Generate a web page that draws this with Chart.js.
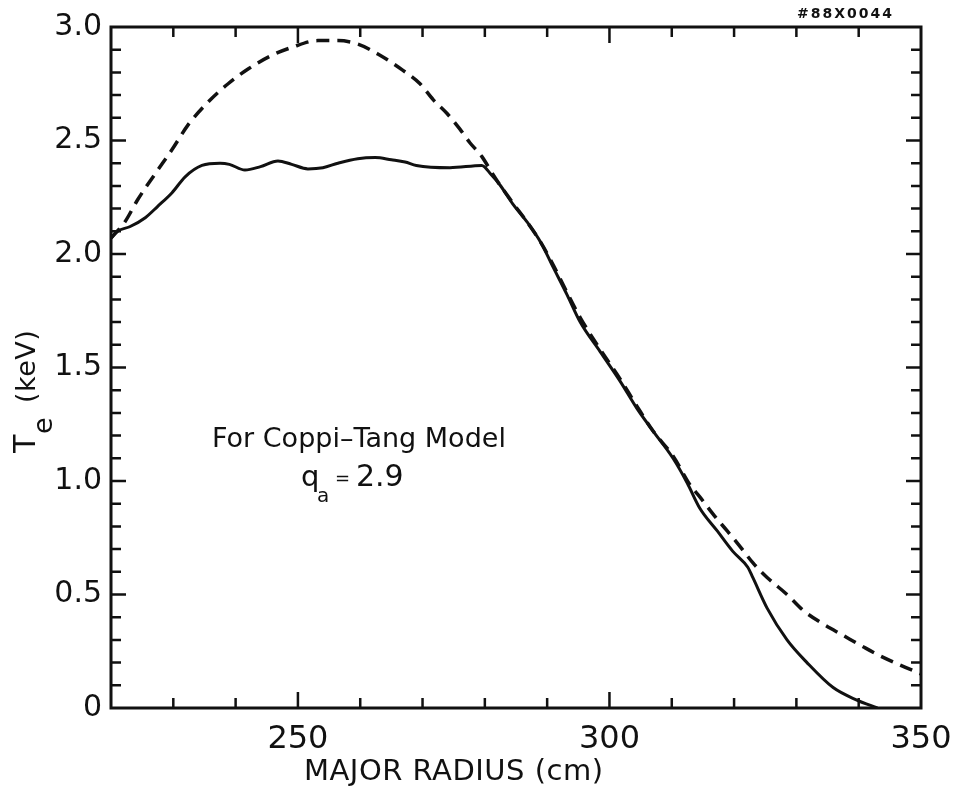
<!DOCTYPE html>
<html>
<head>
<meta charset="utf-8">
<title>Te profile</title>
<script src="https://cdn.jsdelivr.net/npm/chart.js@4.4.1/dist/chart.umd.min.js"></script>
<style>
  html, body { margin: 0; padding: 0; background: #fff; }
  #wrap { width: 958px; height: 786px; }
</style>
</head>
<body>
<div id="wrap"><canvas id="te" width="958" height="786"></canvas></div>
<script>
// measured Te profile: major radius (cm) vs Te (keV)
const measuredR = [220, 221, 223, 225.5, 227.5, 229.8, 231.9, 234.6, 237.5, 239, 241.5, 244, 246.8, 249,
  251.6, 254, 256.4, 259.6, 262.4, 265, 267.2, 269, 274.4, 279.5, 281, 282.4, 284.5, 286.8, 289, 291,
  293.2, 295.3, 298.5, 301.7, 304.4, 307, 310.2, 312.5, 314.5, 317.3, 319.8, 322.2, 323, 325.3, 328.5,
  331.7, 335.9, 339.7, 343];
const measuredTe = [2.07, 2.10, 2.12, 2.16, 2.21, 2.27, 2.34, 2.39, 2.40, 2.395, 2.37, 2.385, 2.41, 2.395,
  2.375, 2.38, 2.40, 2.42, 2.425, 2.415, 2.405, 2.39, 2.38, 2.39, 2.35, 2.305, 2.22, 2.14, 2.05, 1.94,
  1.82, 1.70, 1.57, 1.44, 1.32, 1.22, 1.10, 0.99, 0.88, 0.78, 0.69, 0.62, 0.575, 0.44, 0.30,
  0.20, 0.09, 0.035, 0.0];

// Coppi-Tang model profile
const modelR = [220, 222.2, 224.3, 227, 229.8, 232.4, 235.6, 238.8, 242, 245.8, 249, 253.2, 256.4, 259.6,
  262.9, 266.8, 269.6, 271.7, 273.9, 276, 277.6, 279.5, 281.2, 282.4, 284.5, 286.8, 289, 291, 293.2,
  295.3, 298.5, 301.7, 304.4, 307, 310.2, 313, 314.5, 316.6, 318.9, 321, 323, 325.3, 328.5, 331.1,
  334.3, 337.5, 340.7, 343.4, 346.6, 350];
const modelTe = [2.07, 2.14, 2.24, 2.35, 2.46, 2.57, 2.67, 2.75, 2.815, 2.875, 2.91, 2.94, 2.94, 2.925,
  2.88, 2.81, 2.75, 2.68, 2.62, 2.55, 2.49, 2.43, 2.355, 2.305, 2.225, 2.14, 2.05, 1.95, 1.83,
  1.72, 1.58, 1.45, 1.33, 1.22, 1.11, 0.98, 0.93, 0.855, 0.78, 0.71, 0.64, 0.575, 0.50, 0.43,
  0.37, 0.32, 0.27, 0.23, 0.19, 0.15];

const xTickLabels = [250, 300, 350];
const yTickLabels = ['0', '0.5', '1.0', '1.5', '2.0', '2.5', '3.0'];

const toPoints = (xs, ys) => xs.map((r, i) => ({ x: r, y: ys[i] }));

const INK = '#111';
const FONT = 'DejaVu Sans';

// box, inward ticks on all four sides, titles and the model note
const frame = {
  id: 'frame',
  afterDraw(chart) {
    const { ctx, chartArea: a, scales: { x, y } } = chart;
    ctx.save();
    ctx.strokeStyle = INK;
    ctx.lineWidth = 3;
    ctx.strokeRect(a.left, a.top, a.right - a.left, a.bottom - a.top);

    ctx.lineWidth = 2.5;
    ctx.beginPath();
    x.ticks.forEach(t => {
      if (t.value <= x.min || t.value >= x.max) return;
      const px = x.getPixelForValue(t.value);
      const len = t.label ? 16 : 10;
      ctx.moveTo(px, a.bottom); ctx.lineTo(px, a.bottom - len);
      ctx.moveTo(px, a.top); ctx.lineTo(px, a.top + len);
    });
    y.ticks.forEach(t => {
      if (t.value <= y.min + 1e-6 || t.value >= y.max - 1e-6) return;
      const py = y.getPixelForValue(t.value);
      const len = t.label ? 15 : 10;
      ctx.moveTo(a.left, py); ctx.lineTo(a.left + len, py);
      ctx.moveTo(a.right, py); ctx.lineTo(a.right - len, py);
    });
    ctx.stroke();

    ctx.fillStyle = INK;
    ctx.textBaseline = 'alphabetic';
    ctx.textAlign = 'left';

    // x title
    ctx.font = `29px ${FONT}`;
    ctx.letterSpacing = '0.5px';
    ctx.fillText('MAJOR RADIUS (cm)', 304, 780);

    // y title, rotated, with subscript e
    ctx.save();
    ctx.translate(35, 453);
    ctx.rotate(-Math.PI / 2);
    ctx.font = `30px ${FONT}`;
    ctx.fillText('T', 0, 0);
    ctx.font = `27px ${FONT}`;
    ctx.fillText('e', 19, 17);
    ctx.fillText('(keV)', 50, 0);
    ctx.restore();

    // model note
    ctx.letterSpacing = '0px';
    ctx.font = `27px ${FONT}`;
    ctx.fillText('For Coppi\u2013Tang Model', 212, 447);
    ctx.font = `29px ${FONT}`;
    ctx.fillText('q', 301, 486);
    ctx.font = `20px ${FONT}`;
    ctx.fillText('a', 317, 502);
    ctx.font = `18px ${FONT}`;
    ctx.fillText('=', 335, 484);
    ctx.font = `30px ${FONT}`;
    ctx.fillText('2.9', 356, 486);

    // figure id
    ctx.font = `bold 14px ${FONT}`;
    ctx.letterSpacing = '2px';
    ctx.fillText('#88X0044', 797, 18);
    ctx.restore();
  }
};

new Chart(document.getElementById('te'), {
  type: 'line',
  data: {
    datasets: [
      {
        label: 'Measured',
        data: toPoints(measuredR, measuredTe),
        borderColor: INK,
        borderWidth: 3,
        cubicInterpolationMode: 'monotone',
        pointRadius: 0
      },
      {
        label: 'Coppi-Tang Model',
        data: toPoints(modelR, modelTe),
        borderColor: INK,
        borderWidth: 3.5,
        borderDash: [13, 8],
        cubicInterpolationMode: 'monotone',
        pointRadius: 0
      }
    ]
  },
  options: {
    responsive: false,
    animation: false,
    events: [],
    layout: { padding: { top: 25, right: 37, left: 0, bottom: 0 } },
    plugins: {
      legend: { display: false },
      tooltip: { enabled: false }
    },
    scales: {
      x: {
        type: 'linear',
        min: 220,
        max: 350,
        grid: { display: false, drawTicks: false },
        border: { display: false },
        afterFit(scale) {
          scale.height = 78;
          // keep the end label from widening the right margin
          scale.paddingLeft = 0;
          scale.paddingRight = 0;
        },
        ticks: {
          stepSize: 10,
          autoSkip: false,
          maxRotation: 0,
          padding: 12,
          color: INK,
          font: { family: FONT, size: 32 },
          callback: v => (xTickLabels.includes(Math.round(v)) ? String(Math.round(v)) : '')
        }
      },
      y: {
        min: 0,
        max: 3,
        grid: { display: false, drawTicks: false },
        border: { display: false },
        afterFit(scale) { scale.width = 111; },
        ticks: {
          stepSize: 0.1,
          autoSkip: false,
          padding: 9,
          color: INK,
          font: { family: FONT, size: 30 },
          callback: v => {
            const k = Math.round(v * 10);
            return k % 5 === 0 ? yTickLabels[k / 5] : '';
          }
        }
      }
    }
  },
  plugins: [frame]
});
</script>
</body>
</html>
